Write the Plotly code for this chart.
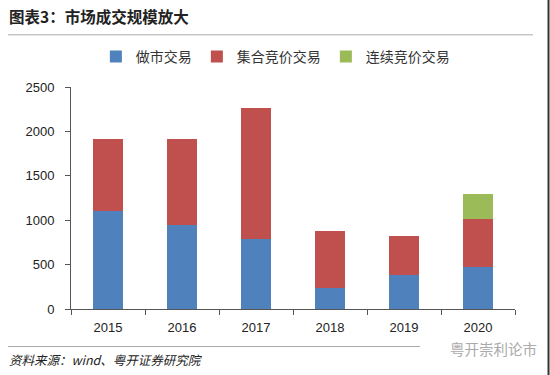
import plotly.graph_objects as go

years = ["2015", "2016", "2017", "2018", "2019", "2020"]
market_making = [1107, 947, 786, 239, 382, 478]
call_auction = [802, 962, 1483, 644, 438, 540]
continuous_auction = [0, 0, 0, 0, 0, 274]
series_names = ["做市交易", "集合竞价交易", "连续竞价交易"]
colors = ["#4F81BD", "#C0504D", "#9BBB59"]

fig = go.Figure()
for name, vals, col in zip(series_names, [market_making, call_auction, continuous_auction], colors):
    fig.add_trace(go.Bar(x=years, y=vals, name=name, marker=dict(color=col, line=dict(width=0)),
                         width=0.4))

fig.update_layout(
    barmode="stack",
    width=550, height=375,
    margin=dict(l=71, r=35, t=87, b=66, autoexpand=False),
    paper_bgcolor="white", plot_bgcolor="white",
    font=dict(family="Noto Sans CJK SC", color="#222222"),
    showlegend=True,
    legend=dict(orientation="h", x=0.056, y=0.848, xanchor="left", yanchor="middle",
                yref="container",
                font=dict(size=14, family="Noto Sans CJK SC", color="#333333"),
                itemwidth=30, traceorder="normal", bgcolor="rgba(0,0,0,0)"),
    xaxis=dict(type="category", showline=True, linecolor="#555555", linewidth=1,
               ticks="outside", tickson="boundaries", ticklen=5, tickcolor="#555555",
               tickfont=dict(family="Liberation Sans", size=13, color="#222222"),
               ticklabelstandoff=6,
               showgrid=False, zeroline=False, automargin=False),
    yaxis=dict(range=[0, 2500], tickvals=[0, 500, 1000, 1500, 2000, 2500],
               showline=True, linecolor="#555555", linewidth=1,
               ticks="outside", ticklen=5, tickcolor="#555555",
               tickfont=dict(family="Liberation Sans", size=13, color="#222222"),
               ticklabelstandoff=8,
               showgrid=False, zeroline=False, automargin=False),
    shapes=[
        dict(type="line", xref="paper", yref="paper", x0=-0.142, x1=1.0405, y0=1.235, y1=1.235,
             line=dict(color="#AAAAAA", width=1)),
        dict(type="line", xref="paper", yref="paper", x0=-0.142, x1=0.786, y0=-0.169, y1=-0.169,
             line=dict(color="#AAAAAA", width=1)),
        dict(type="line", xref="paper", yref="paper", x0=1.0755, x1=1.0755, y0=-0.3, y1=1.4,
             line=dict(color="#333333", width=2)),
    ],
    annotations=[
        dict(text="<b>图表3：市场成交规模放大</b>", xref="paper", yref="paper", x=-0.145, y=1.322,
             xanchor="left", yanchor="middle", showarrow=False,
             font=dict(size=15.5, family="Noto Sans CJK SC", color="#222222")),
        dict(text="<i>资料来源：wind、粤开证券研究院</i>", xref="paper", yref="paper", x=-0.145, y=-0.228,
             xanchor="left", yanchor="middle", showarrow=False,
             font=dict(size=12.5, family="Noto Sans CJK SC", color="#222222")),
        dict(text="粤开崇利论市", xref="paper", yref="paper", x=1.055, y=-0.18,
             xanchor="right", yanchor="middle", showarrow=False,
             font=dict(size=14.5, family="Noto Sans CJK SC", color="#AAAAAA")),
    ],
)

fig.write_html("out.html", config={"displayModeBar": False},
               post_script="document.body.style.margin='0';document.body.style.padding='0';")
